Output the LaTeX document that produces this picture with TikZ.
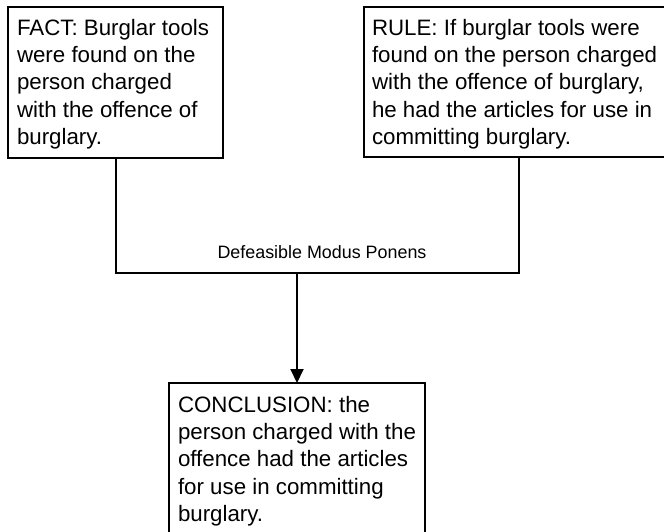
\documentclass[tikz,border=0pt]{standalone}
\usepackage{fontspec}
\setmainfont{Liberation Sans}
\usetikzlibrary{arrows.meta}
\begin{document}
\begin{tikzpicture}[x=1pt,y=-1pt,
  box/.style={draw=black,line width=2pt,rectangle,inner sep=0pt,outer sep=0pt,anchor=north west},
  txt/.style={inner sep=0pt,outer sep=0pt,anchor=north west,align=left,font=\fontsize{22.3}{27.3}\selectfont},
  lbl/.style={inner sep=0pt,font=\fontsize{17.9}{21}\selectfont},
  conn/.style={draw=black,line width=2pt},
  arr/.style={conn,-{Triangle[width=13pt,length=14pt]}}]
\useasboundingbox (0,0) rectangle (664,531);
\clip (0,0) rectangle (664,531);
\fill[white] (0,0) rectangle (664,531);
% boxes
\node[box,minimum width=215pt,minimum height=151pt] (fact) at (8,7) {};
\node[box,minimum width=310pt,minimum height=150pt] (rule) at (364,7) {};
\node[box,minimum width=256pt,minimum height=170pt] (concl) at (169,383) {};
% texts
\node[txt] (facttext) at (17,19) {FACT: Burglar tools\\were found on the\\person charged\\with the offence of\\burglary.};
\node[txt] (ruletext) at (372,19) {RULE: If burglar tools were\\found on the person charged\\with the offence of burglary,\\he had the articles for use in\\committing burglary.};
\node[txt] (concltext) at (178,396) {CONCLUSION: the\\person charged with the\\offence had the articles\\for use in committing\\burglary.};
% connectors
\coordinate (j) at (297,273);
\draw[conn] (fact.south) |- (j) -| (rule.south);
\draw[arr] (j) -- (concl.north);
\node[lbl,anchor=base] (mp) at (322,258) {Defeasible Modus Ponens};
\end{tikzpicture}
\end{document}
